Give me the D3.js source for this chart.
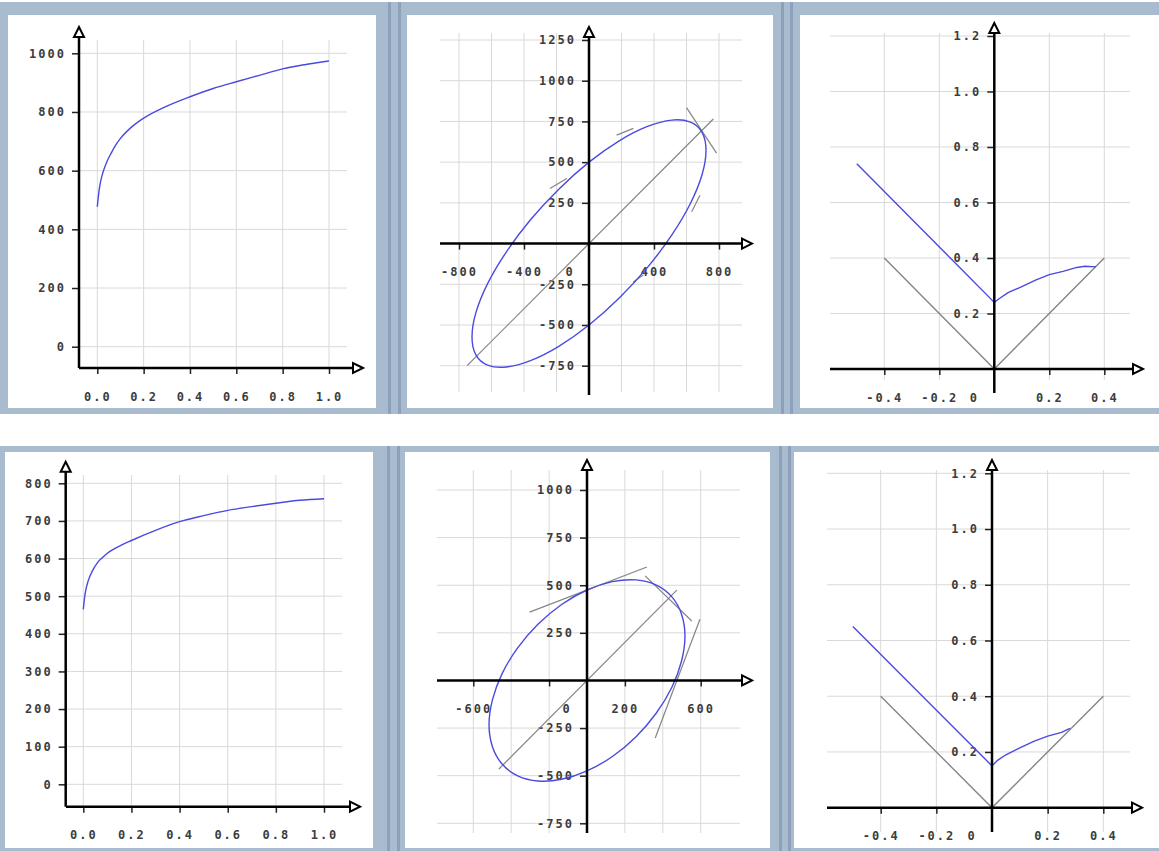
<!DOCTYPE html>
<html>
<head>
<meta charset="utf-8">
<script src="https://cdn.jsdelivr.net/npm/d3@7"></script>
<style>
body { margin: 0; background: #fff; }
svg { display: block; }
text { font-family: "DejaVu Sans Mono", monospace; font-size: 12px; font-weight: bold; fill: #3c3c3c; letter-spacing: 2px; }
</style>
</head>
<body>
<svg id="chart"></svg>
<script>
// left column: rising curves
const curveX = [0, 0.005, 0.01, 0.02, 0.04, 0.06, 0.08, 0.1, 0.15, 0.2, 0.3, 0.4, 0.5, 0.6, 0.7, 0.8, 0.9, 1.0];
const curveTopY = [477, 515, 545, 582, 628, 660, 688, 710, 750, 779, 820, 852, 880, 903, 925, 947, 962, 974];
const curveBottomY = [465, 495, 515, 540, 570, 590, 603, 614, 633, 648, 675, 698, 714, 728, 738, 747, 755, 759];

// middle column: ellipses, points read around the loop
const ellipseTopX = [720, 696, 624, 509, 360, 186, 0, -186, -360, -509, -624, -696, -720, -696, -624, -509, -360, -186, 0, 186, 360, 509, 624, 696];
const ellipseTopY = [573, 683, 746, 758, 719, 631, 500, 334, 146, -52, -246, -424, -573, -683, -746, -758, -719, -631, -500, -334, -146, 52, 246, 424];
const ellipseBottomX = [517, 499, 448, 366, 259, 134, 0, -134, -259, -366, -448, -499, -517, -499, -448, -366, -259, -134, 0, 134, 259, 366, 448, 499];
const ellipseBottomY = [233, 348, 439, 501, 528, 519, 475, 399, 295, 171, 36, -102, -233, -348, -439, -501, -528, -519, -475, -399, -295, -171, -36, 102];
// grey helper lines [x1, y1, x2, y2]
const helperTop = [[-750, -750, 765, 765], [600, 835, 785, 555], [170, 666, 273, 707], [-240, 338, -137, 400], [632, 195, 683, 297], [272, -236, 334, -193]];
const helperBottom = [[-465, -465, 474, 474], [-303, 359, 316, 596], [307, 549, 553, 312], [596, 321, 360, -302]];

// right column: V shapes
const vX = [-0.4, 0, 0.4];
const vY = [0.4, 0, 0.4];
const kinkTopX = [-0.5, 0, 0.02, 0.05, 0.1, 0.15, 0.2, 0.25, 0.3, 0.33, 0.37];
const kinkTopY = [0.74, 0.24, 0.255, 0.275, 0.297, 0.32, 0.34, 0.352, 0.366, 0.37, 0.368];
const kinkBottomX = [-0.5, 0, 0.02, 0.05, 0.1, 0.15, 0.2, 0.25, 0.28];
const kinkBottomY = [0.65, 0.15, 0.17, 0.19, 0.215, 0.238, 0.257, 0.27, 0.285];

// ticks
const unitTicks = [0, 0.2, 0.4, 0.6, 0.8, 1.0];
const topLeftY = [0, 200, 400, 600, 800, 1000];
const bottomLeftY = [0, 100, 200, 300, 400, 500, 600, 700, 800];
const topMidXTicks = [-800, -400, 400, 800];
const topMidXGrid = [-800, -600, -400, -200, 200, 400, 600, 800];
const topMidY = [-750, -500, -250, 250, 500, 750, 1000, 1250];
const bottomMidXTicks = [-600, -200, 200, 600];
const bottomMidXLabels = [-600, 200, 600];
const bottomMidXGrid = [-600, -400, -200, 200, 400, 600];
const bottomMidY = [-750, -500, -250, 250, 500, 750, 1000];
const rightX = [-0.4, -0.2, 0.2, 0.4];
const rightY = [0.2, 0.4, 0.6, 0.8, 1.0, 1.2];

const W = 1159, H = 851;
const blue = '#4a4ae0', grey = '#858585';
const svg = d3.select('#chart').attr('width', W).attr('height', H);

// window frames
const frame = '#a9bbcf', stripe = '#8da2ba';
svg.append('rect').attr('x', 0).attr('y', 2).attr('width', W).attr('height', 412).attr('fill', frame);
svg.append('rect').attr('x', 0).attr('y', 446).attr('width', W).attr('height', 405).attr('fill', frame);
[[388, 2, 412], [398, 2, 412], [781, 2, 412], [790, 2, 412],
 [387, 446, 405], [397, 446, 405], [779, 446, 405], [788, 446, 405]].forEach(s => {
  svg.append('rect').attr('x', s[0]).attr('y', s[1]).attr('width', 3).attr('height', s[2]).attr('fill', stripe);
});
[[8, 15, 368, 393], [407, 15, 366, 393], [800, 15, 359, 393],
 [5, 452, 368, 396], [405, 452, 365, 396], [794, 452, 365, 396]].forEach(r => {
  svg.append('rect').attr('x', r[0]).attr('y', r[1]).attr('width', r[2]).attr('height', r[3]).attr('fill', '#fff');
});

const fmt1 = d => d.toFixed(1);
const fmt0 = d => d.toFixed(0);

const panels = [
  { xd: [0, 1], xr: [97.3, 329], yd: [0, 1000], yr: [346.7, 53.3], axisY: 368, axisX: 79,
    xLine: [79, 363], yLine: [368, 27], gridX: [80, 347], gridY: [40, 368],
    xGrid: unitTicks, yGrid: topLeftY, xTicks: unitTicks, yTicks: topLeftY, xFmt: fmt1, yFmt: fmt0,
    series: [{ x: curveX, y: curveTopY, color: blue, curve: d3.curveMonotoneX }] },
  { xd: [-800, 800], xr: [459, 719], yd: [-750, 1250], yr: [365.7, 40],
    xLine: [440, 752], yLine: [395, 27], gridX: [440, 742], gridY: [33, 392],
    xGrid: topMidXGrid, yGrid: topMidY, xTicks: topMidXTicks, yTicks: topMidY, xFmt: fmt0, yFmt: fmt0, zero: -19,
    helpers: helperTop,
    series: [{ x: ellipseTopX, y: ellipseTopY, color: blue, curve: d3.curveCardinalClosed }] },
  { xd: [-0.4, 0.4], xr: [884.3, 1104.3], yd: [0, 1.2], yr: [369, 36],
    xLine: [830, 1143], yLine: [393, 23], gridX: [830, 1130], gridY: [33, 380],
    xGrid: rightX, yGrid: rightY, xTicks: rightX, yTicks: rightY, xFmt: fmt1, yFmt: fmt1, zero: -20,
    series: [{ x: vX, y: vY, color: grey, curve: d3.curveLinear },
             { x: kinkTopX, y: kinkTopY, color: blue, curve: d3.curveLinear }] },
  { xd: [0, 1], xr: [83.3, 324], yd: [0, 800], yr: [784.3, 483.3], axisY: 806.7, axisX: 65.7,
    xLine: [66, 360], yLine: [806.7, 461.7], gridX: [67, 342], gridY: [475, 807],
    xGrid: unitTicks, yGrid: bottomLeftY, xTicks: unitTicks, yTicks: bottomLeftY, xFmt: fmt1, yFmt: fmt0,
    series: [{ x: curveX, y: curveBottomY, color: blue, curve: d3.curveMonotoneX }] },
  { xd: [-600, 600], xr: [473.3, 700.7], yd: [-750, 1000], yr: [823.3, 490],
    xLine: [437, 752], yLine: [833, 460], gridX: [437, 740], gridY: [470, 833],
    xGrid: bottomMidXGrid, yGrid: bottomMidY, xTicks: bottomMidXTicks, yTicks: bottomMidY,
    xFmt: d => bottomMidXLabels.includes(d) ? fmt0(d) : '', yFmt: fmt0, zero: -20,
    helpers: helperBottom,
    series: [{ x: ellipseBottomX, y: ellipseBottomY, color: blue, curve: d3.curveCardinalClosed }] },
  { xd: [-0.4, 0.4], xr: [880.7, 1103.3], yd: [0, 1.2], yr: [807.7, 473.3],
    xLine: [827, 1142], yLine: [832, 460], gridX: [827, 1130], gridY: [470, 832],
    xGrid: rightX, yGrid: rightY, xTicks: rightX, yTicks: rightY, xFmt: fmt1, yFmt: fmt1, zero: -20,
    series: [{ x: vX, y: vY, color: grey, curve: d3.curveLinear },
             { x: kinkBottomX, y: kinkBottomY, color: blue, curve: d3.curveLinear }] }
];

panels.forEach(p => {
  const g = svg.append('g');
  const xs = d3.scaleLinear().domain(p.xd).range(p.xr);
  const ys = d3.scaleLinear().domain(p.yd).range(p.yr);
  const ay = p.axisY != null ? p.axisY : ys(0);   // pixel row of the x axis
  const ax = p.axisX != null ? p.axisX : xs(0);   // pixel column of the y axis

  // grid
  g.selectAll('.hg').data(p.yGrid).enter().append('line')
    .attr('x1', p.gridX[0]).attr('x2', p.gridX[1])
    .attr('y1', d => ys(d)).attr('y2', d => ys(d))
    .attr('stroke', '#d9d9d9').attr('stroke-width', 1);
  g.selectAll('.vg').data(p.xGrid).enter().append('line')
    .attr('x1', d => xs(d)).attr('x2', d => xs(d))
    .attr('y1', p.gridY[0]).attr('y2', p.gridY[1])
    .attr('stroke', '#d9d9d9').attr('stroke-width', 1);

  // tick labels via d3 axes
  const gx = g.append('g').attr('transform', `translate(0,${ay})`)
    .call(d3.axisBottom(xs).tickValues(p.xTicks).tickSize(6).tickPadding(18).tickFormat(p.xFmt));
  gx.select('.domain').remove();
  gx.selectAll('line').attr('stroke', '#222').attr('stroke-width', 1.5);
  const gy = g.append('g').attr('transform', `translate(${ax},0)`)
    .call(d3.axisLeft(ys).tickValues(p.yTicks).tickSize(7).tickPadding(6).tickFormat(p.yFmt));
  gy.select('.domain').remove();
  gy.selectAll('line').attr('stroke', '#222').attr('stroke-width', 1.5);
  if (p.zero != null) {
    g.append('text').attr('x', ax + p.zero).attr('y', ay + 24).attr('dy', '0.71em')
      .attr('text-anchor', 'middle').text('0');
  }

  // helper lines
  if (p.helpers) {
    g.selectAll('.hl').data(p.helpers).enter().append('line')
      .attr('x1', d => xs(d[0])).attr('y1', d => ys(d[1]))
      .attr('x2', d => xs(d[2])).attr('y2', d => ys(d[3]))
      .attr('stroke', grey).attr('stroke-width', 1.2);
  }

  // series
  p.series.forEach(s => {
    const pts = s.x.map((v, i) => [v, s.y[i]]);
    g.append('path').datum(pts)
      .attr('d', d3.line().x(d => xs(d[0])).y(d => ys(d[1])).curve(s.curve))
      .attr('fill', 'none').attr('stroke', s.color).attr('stroke-width', 1.4);
  });

  // main axes with open arrow heads
  g.append('line').attr('x1', p.xLine[0]).attr('x2', p.xLine[1] - 9)
    .attr('y1', ay).attr('y2', ay).attr('stroke', '#000').attr('stroke-width', 2.5);
  g.append('line').attr('x1', ax).attr('x2', ax)
    .attr('y1', p.yLine[0]).attr('y2', p.yLine[1] + 9).attr('stroke', '#000').attr('stroke-width', 2.5);
  const xa = p.xLine[1], ya = p.yLine[1];
  g.append('path').attr('d', `M${xa},${ay} L${xa - 10},${ay - 5} L${xa - 10},${ay + 5} Z`)
    .attr('fill', '#fff').attr('stroke', '#000').attr('stroke-width', 2);
  g.append('path').attr('d', `M${ax},${ya} L${ax - 5},${ya + 10} L${ax + 5},${ya + 10} Z`)
    .attr('fill', '#fff').attr('stroke', '#000').attr('stroke-width', 2);
});
</script>
</body>
</html>
